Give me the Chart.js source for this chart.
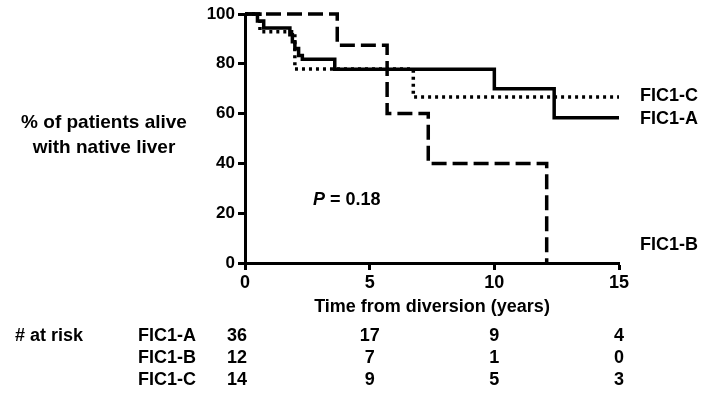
<!doctype html>
<html lang="en">
<head>
    <title>Native liver survival by FIC1 group</title>
    <meta charset="utf-8">
    <style>
        body { margin: 0; background: #fff; }
        #caixa { width: 709px; height: 408px; }
    </style>
</head>
<body>
    <div id="caixa">
        <canvas id="km"></canvas>
    </div>

    <script src="https://cdn.jsdelivr.net/npm/chart.js"></script>
    <script>
        // Kaplan-Meier steps (years, % alive with native liver)
        const timesA = [0, 0.5, 0.75, 1.8, 1.9, 2.0, 2.15, 2.3, 3.6, 10.0, 12.4, 15];
        const survA  = [100, 97.2, 94.4, 91.7, 88.9, 86.1, 83.3, 81.8, 77.8, 70.0, 58.3, 58.3];

        const timesB = [0, 3.7, 5.7, 7.35, 12.1];
        const survB  = [100, 87.5, 60, 40, 0];

        const timesC = [0, 0.6, 2.0, 6.75, 15];
        const survC  = [100, 92.9, 77.9, 66.7, 66.7];

        const groups = ["FIC1-A", "FIC1-B", "FIC1-C"];

        // numbers at risk
        const riskTimes = [0, 5, 10, 15];
        const riskA = [36, 17, 9, 4];
        const riskB = [12, 7, 1, 0];
        const riskC = [14, 9, 5, 3];

        const yTicks = [0, 20, 40, 60, 80, 100];
        const xTicks = [0, 5, 10, 15];

        const fonte = "Liberation Sans, Arial, sans-serif";

        function pontos(t, s) {
            return t.map((v, i) => ({ x: v, y: s[i] }));
        }

        // texts around the plot
        const textos = {
            id: "textos",
            afterDraw(chart) {
                const ctx = chart.ctx;
                const x = chart.scales.x;
                const y = chart.scales.y;
                ctx.save();
                ctx.fillStyle = "#000";
                ctx.textBaseline = "middle";

                // y title, horizontal in two lines
                ctx.font = "bold 19px " + fonte;
                ctx.textAlign = "center";
                ctx.fillText("% of patients alive", 104, 123);
                ctx.fillText("with native liver", 104, 148);

                // curve names at the right
                ctx.font = "bold 18px " + fonte;
                ctx.textAlign = "left";
                ctx.fillText(groups[2], 640, y.getPixelForValue(survC[survC.length - 1]) - 1);
                ctx.fillText(groups[0], 640, y.getPixelForValue(survA[survA.length - 1]) + 1);
                ctx.fillText(groups[1], 640, 245);

                // p value
                ctx.font = "italic bold 18px " + fonte;
                ctx.fillText("P", 313, 200);
                const wP = ctx.measureText("P ").width;
                ctx.font = "bold 18px " + fonte;
                ctx.fillText("= 0.18", 313 + wP, 200);

                // x title
                ctx.textAlign = "center";
                ctx.fillText("Time from diversion (years)", 432, 307);

                // at risk table
                const linhas = [riskA, riskB, riskC];
                ctx.textAlign = "left";
                ctx.fillText("# at risk", 15, 336);
                linhas.forEach((r, i) => {
                    const yy = 336 + i * 22;
                    ctx.textAlign = "left";
                    ctx.fillText(groups[i], 138, yy);
                    ctx.textAlign = "center";
                    r.forEach((n, j) => {
                        let xx = x.getPixelForValue(riskTimes[j]);
                        if (j == 0) xx -= 8;
                        ctx.fillText(String(n), xx, yy);
                    });
                });
                ctx.restore();
            }
        };

        const local = document.querySelector("#km");

        new Chart(local, {
            type: "line",
            data: {
                datasets: [
                    {
                        label: groups[2],
                        data: pontos(timesC, survC),
                        stepped: "before",
                        borderColor: "#000",
                        borderWidth: 3.5,
                        borderDash: [3, 4],
                        pointRadius: 0,
                        clip: false,
                        fill: false
                    },
                    {
                        label: groups[0],
                        data: pontos(timesA, survA),
                        stepped: "before",
                        borderColor: "#000",
                        borderWidth: 3.5,
                        pointRadius: 0,
                        clip: false,
                        fill: false
                    },
                    {
                        label: groups[1],
                        data: pontos(timesB, survB),
                        stepped: "before",
                        borderColor: "#000",
                        borderWidth: 3.5,
                        borderDash: [15, 6],
                        pointRadius: 0,
                        clip: false,
                        fill: false
                    }
                ]
            },
            options: {
                responsive: true,
                maintainAspectRatio: false,
                animation: false,
                layout: { padding: { left: 0, right: 90, top: 14, bottom: 0 } },
                plugins: {
                    legend: { display: false },
                    tooltip: { enabled: false }
                },
                scales: {
                    x: {
                        type: "linear",
                        min: 0,
                        max: 15,
                        afterBuildTicks: s => { s.ticks = xTicks.map(v => ({ value: v })); },
                        afterFit: s => { s.height = 145; },
                        ticks: {
                            color: "#000",
                            padding: 2,
                            maxRotation: 0,
                            font: { family: fonte, size: 18, weight: "bold" }
                        },
                        grid: {
                            drawOnChartArea: false,
                            tickLength: 7,
                            tickWidth: 3,
                            tickColor: "#000"
                        },
                        border: { color: "#000", width: 3 }
                    },
                    y: {
                        min: 0,
                        max: 100,
                        afterBuildTicks: s => { s.ticks = yTicks.map(v => ({ value: v })); },
                        afterFit: s => { s.width = 245; },
                        ticks: {
                            color: "#000",
                            padding: 3,
                            font: { family: fonte, size: 17, weight: "bold" }
                        },
                        grid: {
                            drawOnChartArea: false,
                            tickLength: 7,
                            tickWidth: 3,
                            tickColor: "#000"
                        },
                        border: { color: "#000", width: 3 }
                    }
                }
            },
            plugins: [textos]
        });
    </script>
</body>
</html>
